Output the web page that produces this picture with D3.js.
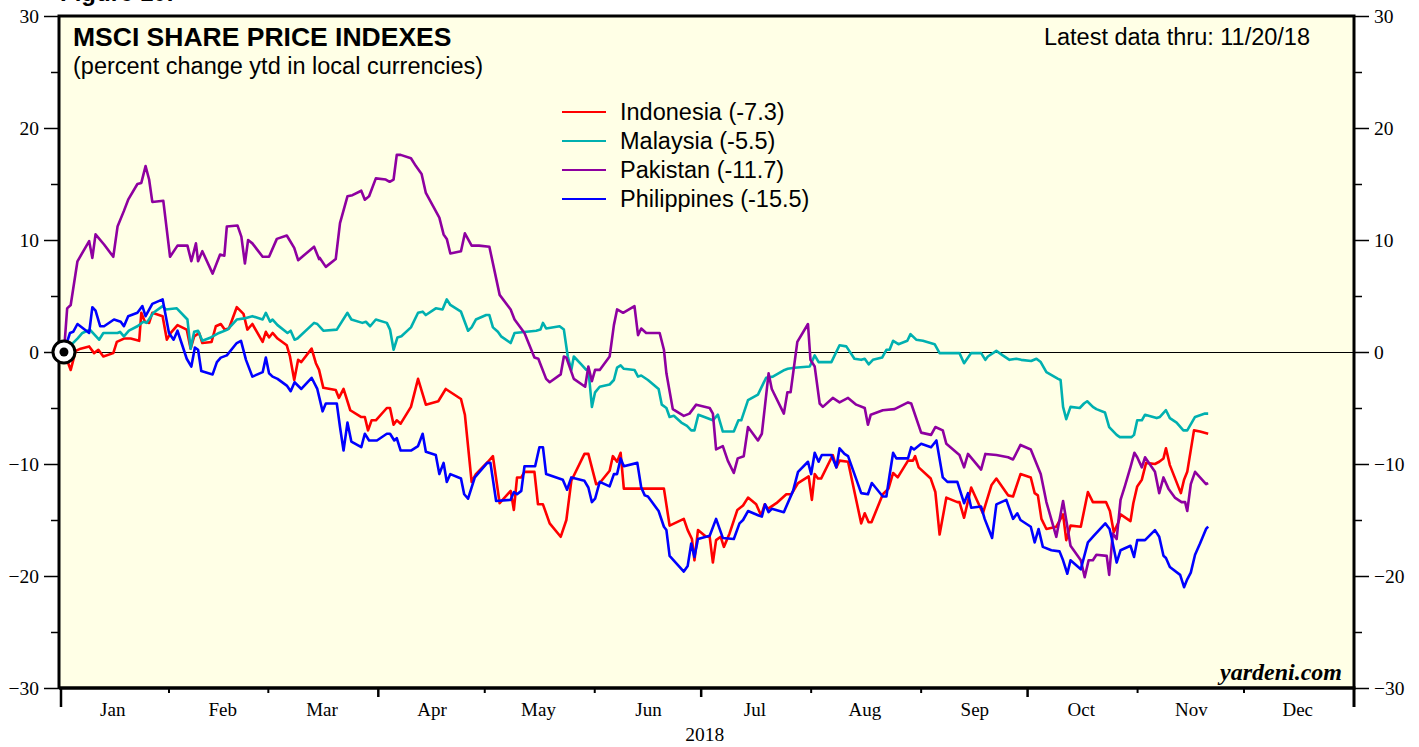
<!DOCTYPE html>
<html>
<head>
<meta charset="utf-8">
<script src="https://cdn.jsdelivr.net/npm/d3@7"></script>
<style>
  body { margin: 0; background: #fff; }
  svg { display: block; }
</style>
</head>
<body>
<svg id="chart" width="1419" height="747"></svg>
<script>
// [day of 2018 (0 = Jan 1), percent change ytd]
const indonesia = [[1.4,0],[3.3,-1.6],[4.7,0.1],[6.1,0.3],[8.5,0.5],[9.9,-0.1],[11.1,0.2],[12.5,-0.4],[15.3,-0.1],[16.3,0.9],[18.3,1.2],[20.2,1.2],[22.6,1.0],[23.2,3.5],[24.2,2.7],[25.4,2.6],[26.3,3.5],[29.2,3.2],[30.4,1.1],[31.5,1.7],[33.4,2.4],[36,2.0],[37.1,0.3],[38.1,1.4],[39.5,1.7],[40.4,0.8],[43,0.9],[44.2,2.3],[45.6,2.5],[46.7,2.0],[47.9,2.1],[50.1,4.0],[52,3.4],[53.1,2.0],[54.5,2.5],[57.4,0.9],[58.3,1.8],[59.2,1.3],[60.2,1.7],[61.6,1.2],[64.2,0.6],[65.1,-0.4],[66.3,-2.5],[67.4,-0.7],[68.3,-0.9],[71.2,0.3],[72.4,-1.0],[73.3,-1.6],[74.5,-3.2],[78,-3.4],[78.9,-4.1],[80.2,-3.3],[82.1,-5.2],[85.1,-5.8],[86.2,-5.8],[87.1,-7.0],[88.1,-6.1],[89.3,-6.1],[92.4,-5.0],[93.3,-5.0],[94.3,-6.5],[95.2,-6.1],[96.3,-6.4],[99.2,-4.9],[101.2,-2.4],[103.4,-4.7],[106.9,-4.4],[109,-3.3],[113.3,-4.2],[114.4,-5.6],[116.3,-11.6],[117.5,-10.9],[120.9,-9.8],[122.3,-9.3],[124.2,-13.5],[127.3,-12.4],[128.2,-14.1],[129.1,-11.2],[130.3,-11.2],[131.2,-10.7],[134,-10.7],[135,-13.6],[136.4,-13.6],[138.3,-15.3],[141.4,-16.5],[143,-15.0],[144.4,-11.5],[148.1,-9.1],[149.2,-9.1],[151.4,-11.8],[152.4,-11.7],[155.2,-10.6],[156.1,-9.3],[157.3,-9.8],[158.3,-9.0],[159.2,-12.2],[170.5,-12.2],[172.1,-15.5],[176.1,-14.9],[177.2,-15.9],[178.4,-16.7],[179.1,-18.6],[180.1,-15.9],[182.4,-16.5],[183.4,-16.5],[184.3,-18.8],[185.2,-16.8],[186.5,-16.5],[187.4,-17.4],[189,-16.2],[191.2,-14.1],[192.8,-13.7],[194.2,-13.0],[196.5,-13.6],[197.9,-14.6],[198.9,-13.6],[199.8,-14.0],[202.2,-13.5],[205,-12.7],[206.4,-12.7],[208.3,-11.7],[211.3,-11.1],[212.2,-13.2],[213,-10.9],[213.9,-11.3],[214.8,-11.3],[218.1,-9.2],[219.1,-10.3],[220,-9.7],[222.4,-9.8],[226.1,-15.3],[227.1,-14.4],[228.2,-15.2],[229,-15.2],[232.2,-12.7],[233.8,-12.2],[235.1,-10.8],[236.4,-11.2],[239.3,-9.7],[240.7,-9.7],[241.3,-9.3],[242.3,-10.3],[245.7,-11.3],[247,-12.5],[248.2,-16.3],[250.1,-13.0],[253.2,-13.4],[253.8,-13.4],[255.1,-14.8],[257.1,-12.1],[260.4,-14.4],[262.8,-11.9],[264.2,-11.3],[267.5,-12.8],[268.9,-12.9],[271,-10.9],[273.9,-11.2],[275,-12.6],[275.9,-12.8],[276.9,-14.9],[278.3,-15.8],[281.1,-15.6],[283,-14.5],[283.9,-16.8],[285.1,-15.5],[288,-15.6],[290,-12.5],[291.4,-13.4],[295.1,-13.4],[296.2,-14.2],[297.3,-16.1],[298.6,-15.2],[299.2,-14.5],[302,-15.1],[302.8,-13.5],[303.9,-12.0],[305.2,-11.4],[306.4,-9.9],[308.9,-10.0],[310.1,-9.8],[311.3,-9.5],[312,-8.6],[313.1,-10.1],[316.2,-12.6],[317.1,-11.4],[318,-10.7],[319.9,-7.0],[321.6,-7.1],[323.9,-7.3]];

const malaysia = [[1.4,0],[5.2,1.2],[6.6,1.7],[8.7,2.0],[11.3,1.1],[12.5,1.7],[16.5,1.7],[17.2,1.8],[18.3,1.4],[19.7,1.9],[22.1,2.3],[23.8,2.7],[24.7,2.6],[26.6,3.5],[29.2,4.1],[30.1,3.8],[33.2,3.9],[36.2,2.9],[37.1,0.3],[38.1,1.8],[39.2,1.9],[40.4,1.0],[42.8,1.3],[45.1,1.7],[47.5,2.0],[50.1,2.9],[52.2,3.0],[54.5,3.2],[57.4,2.9],[58.3,3.5],[59.5,2.7],[60.2,2.9],[61.6,2.4],[64.4,1.7],[65.3,1.9],[66.4,1.1],[67.2,1.2],[71.9,2.6],[72.8,2.5],[74.5,1.9],[78.3,2.0],[81.3,3.5],[82.4,2.9],[85.5,2.6],[86.5,2.7],[87.7,2.3],[89.3,2.9],[92.4,2.6],[93.3,2.0],[94.3,0.2],[95.4,1.3],[96.5,1.4],[99.2,2.2],[101.2,3.5],[102.5,3.6],[103.4,3.3],[106.2,3.9],[108.1,3.8],[109.3,4.7],[110.3,4.2],[113.3,3.6],[115.3,1.9],[116.3,2.2],[117.5,2.9],[120.4,3.3],[121.3,3.3],[122.3,2.2],[123.7,1.8],[124.6,1.4],[127.3,0.8],[128.4,1.7],[134.5,1.9],[135.7,2.0],[136.4,2.6],[137.3,2.1],[141.1,2.3],[142.3,2.0],[143.4,-0.4],[144.4,-1.6],[145.1,-0.4],[147.2,-1.1],[148.6,-1.6],[149.2,-1.5],[150.2,-4.9],[151.1,-3.6],[152.4,-3.1],[155.2,-2.9],[156.4,-2.5],[157.3,-1.4],[158.3,-1.2],[159.2,-1.5],[162.2,-1.6],[163.2,-2.2],[164.1,-2.1],[166,-2.5],[169,-3.3],[169.9,-4.7],[171.2,-5.0],[172.1,-5.8],[173.3,-5.7],[175.4,-6.3],[177,-6.6],[178.2,-7.0],[179.1,-7.0],[180.2,-5.6],[181.9,-5.8],[184.3,-6.1],[185.7,-5.6],[187.1,-7.1],[190.2,-7.1],[191.5,-6.1],[192.3,-6.1],[194.2,-4.3],[197,-3.8],[199.3,-2.3],[201.2,-2.2],[204.5,-1.6],[205.4,-1.5],[207.3,-1.4],[211.6,-1.3],[213,-0.3],[214.1,-0.9],[217.7,-0.9],[220,0.6],[221.9,0.5],[224.2,-0.6],[226.1,-0.7],[227.1,-0.6],[228.2,-1.1],[229.4,-0.7],[232,-0.5],[233.2,0.2],[234.1,0.2],[235.1,1.0],[236.6,0.7],[239.1,1.0],[240,1.6],[241.6,1.1],[243.5,1.0],[246.8,0.7],[248.2,-0.1],[249.6,-0.1],[253.8,-0.1],[255.1,-1.0],[257.1,-0.1],[259.9,-0.1],[261.1,-0.7],[261.8,-0.4],[264.2,0.1],[266,-0.3],[267.9,-0.7],[269.8,-0.6],[271.2,-0.7],[274,-0.8],[275.5,-0.6],[276.7,-0.9],[278.3,-1.8],[281.6,-2.4],[282.3,-2.5],[283,-4.9],[283.9,-6.0],[285.1,-4.9],[287.7,-5.0],[288.9,-4.6],[289.8,-4.4],[291.4,-4.9],[292.4,-5.1],[294.8,-5.4],[296,-6.7],[298.1,-7.4],[299,-7.6],[302.3,-7.6],[303,-7.4],[303.9,-6.1],[305.2,-6.1],[306.1,-5.6],[309.4,-5.9],[310.3,-5.8],[312,-5.2],[313.1,-5.9],[315,-6.3],[316.9,-7.0],[318,-7.0],[320.2,-5.8],[323,-5.5],[323.9,-5.5]];

const pakistan = [[1.4,0],[2.3,3.9],[3.3,4.2],[5.2,8.1],[8.5,9.9],[9.4,8.4],[10.3,10.5],[12.7,9.6],[15.3,8.5],[16.5,11.2],[18.3,12.6],[19.5,13.6],[22.1,15.0],[23.2,15.1],[24.4,16.6],[25.4,15.4],[26.3,13.4],[29.4,13.5],[31.3,8.5],[33.4,9.5],[36.2,9.5],[37.3,8.1],[38.6,9.7],[39.2,8.1],[40.4,9.0],[43.3,7.0],[45.4,8.7],[46.6,8.6],[47.3,11.2],[50.3,11.3],[51.4,10.3],[52.4,7.9],[53.3,10.0],[54.5,9.7],[57.4,8.5],[59.2,8.5],[61.4,10.1],[64.2,10.4],[66.3,9.3],[67.4,8.2],[71.9,9.4],[73.3,8.3],[73.5,8.4],[75.2,7.6],[78,8.3],[79.2,11.5],[81.3,13.9],[82.7,14.0],[85.2,14.4],[86.2,13.6],[87.4,13.9],[89.3,15.5],[92.1,15.4],[93.2,15.2],[94.3,15.4],[95.2,17.6],[96.3,17.6],[99.2,17.3],[100.6,16.6],[102.2,15.9],[103.4,14.2],[107.2,12.0],[108.4,10.5],[109.3,10.1],[110.3,8.8],[113.3,9.0],[114.4,10.6],[116.3,9.5],[118.4,9.5],[121.3,9.4],[124.2,5.1],[127.3,3.8],[128.4,2.9],[131.2,1.7],[134,-0.5],[135.1,-0.6],[137.3,-2.4],[138.3,-2.7],[141.4,-2.0],[142.3,-0.4],[143,-0.5],[145.1,-2.4],[148.3,-3.1],[149.2,-1.3],[150.2,-2.6],[151.1,-1.6],[152.4,-1.6],[155.2,-0.4],[156.4,2.4],[157.3,3.8],[159,3.5],[162.2,4.1],[163.2,1.5],[164.1,2.1],[165.5,1.7],[169.3,1.7],[170.5,0.2],[171.2,-1.9],[173,-5.1],[176.1,-5.7],[177.7,-5.5],[179.6,-4.7],[183.4,-5.0],[184.3,-5.5],[185.2,-8.7],[187.1,-8.4],[188.5,-9.7],[190.2,-10.8],[191.3,-9.5],[193,-9.3],[194.2,-6.7],[197,-7.9],[198.1,-7.3],[200,-1.9],[200.9,-3.3],[204.3,-5.5],[205.3,-3.6],[206.2,-3.6],[208.1,0.9],[211.1,2.5],[211.8,-0.7],[213,-1.3],[214.4,-4.6],[215.3,-4.9],[218.1,-4.1],[220,-4.5],[222.4,-4.1],[224.7,-4.7],[227.1,-5.0],[228,-6.5],[228.8,-5.6],[232.2,-5.2],[235.5,-5.1],[239.3,-4.5],[240.2,-4.6],[243,-7.2],[245.8,-7.4],[247,-6.7],[249.1,-7.0],[250.1,-8.2],[253.8,-9.2],[255.1,-10.3],[256.2,-9.1],[259.9,-10.5],[261.1,-9.1],[264.2,-9.2],[267.5,-9.4],[268.9,-9.6],[271,-8.3],[273.9,-8.7],[276.7,-10.9],[278.3,-13.4],[281.1,-16.5],[283,-13.3],[285.1,-17.3],[288,-18.6],[289.1,-20.1],[290.2,-18.6],[291.4,-18.6],[292.4,-18.1],[295.3,-18.2],[296,-19.9],[297,-16.2],[298.1,-16.7],[299.2,-13.2],[300.4,-12.0],[301.9,-10.4],[303.1,-9.0],[303.9,-9.4],[305.2,-10.3],[306.1,-9.4],[308.9,-10.7],[310.1,-12.6],[311.3,-11.2],[312.7,-12.2],[314.5,-13.0],[316.4,-13.4],[317.4,-13.4],[318,-14.2],[319,-11.8],[320.2,-10.7],[321.6,-11.2],[323.3,-11.8],[323.9,-11.7]];

const philippines = [[1.4,0],[3.1,1.7],[4.0,1.8],[5.2,2.5],[8.5,1.7],[9.4,4.0],[10.3,3.7],[11.6,2.3],[12.7,2.3],[15.5,2.9],[17.4,2.7],[18.3,2.3],[19.5,3.2],[22.1,3.5],[23.5,4.1],[24.4,3.2],[26.3,4.3],[29.2,4.7],[31,1.7],[32.3,1.1],[33.4,1.9],[36,-0.6],[37.3,-1.3],[38.3,0.4],[39.2,0.2],[40.1,-1.7],[43.3,-2.0],[44.5,-0.9],[45.6,-0.5],[47.3,-0.3],[50.1,0.8],[51.3,1.0],[52.7,-0.7],[54.5,-2.2],[57.4,-1.8],[58.3,-0.5],[59.2,-1.9],[60.2,-2.2],[61.6,-2.4],[64.2,-3.0],[65.3,-3.5],[66.4,-2.7],[68.3,-3.3],[71.2,-2.3],[72.8,-3.3],[74.3,-5.3],[75.2,-4.6],[78.3,-4.6],[79.2,-6.7],[80.2,-8.8],[81.3,-6.3],[82.4,-8.0],[85.2,-8.5],[86.2,-7.3],[87.4,-7.9],[89.6,-7.9],[92.4,-7.3],[93.3,-7.3],[94.5,-7.9],[95.2,-7.7],[96.3,-8.8],[99.2,-8.8],[101.2,-8.4],[102.5,-7.3],[103.4,-8.9],[106.2,-9.2],[107.2,-10.9],[108.4,-9.9],[109.3,-11.6],[110.3,-10.9],[113.3,-11.3],[114.2,-12.7],[115.3,-13.1],[117.2,-11.2],[120.7,-9.9],[121.6,-9.9],[123.2,-13.3],[127.3,-13.2],[128.2,-12.5],[129.1,-12.7],[130.3,-12.4],[131.2,-10.2],[134.2,-10.2],[135.4,-8.5],[136.4,-8.5],[137.3,-10.9],[142,-11.4],[143.2,-12.3],[144.4,-11.2],[148.1,-11.5],[149.2,-12.1],[150.2,-13.4],[151.1,-13.1],[152.4,-11.6],[155.2,-12.0],[156.4,-10.9],[157.3,-10.9],[158.3,-9.5],[159.2,-10.2],[163,-9.9],[164.1,-12.1],[165.1,-12.8],[166,-12.9],[169,-14.2],[170.5,-15.6],[171.2,-15.9],[172.1,-18.2],[176.1,-19.6],[177.2,-19.1],[178.2,-17.1],[179.1,-18.3],[180.1,-16.7],[183.4,-16.4],[185.2,-14.9],[187.1,-16.6],[190.2,-16.7],[191.8,-15.3],[192.8,-15.0],[194.2,-14.2],[197.2,-14.6],[198.1,-14.7],[199,-13.6],[200,-14.3],[200.9,-14.0],[204.3,-14.3],[206.9,-12.4],[208.3,-10.7],[211.1,-9.8],[212,-10.9],[213,-9.0],[214.1,-9.8],[215,-9.2],[217.7,-9.2],[219.1,-10.3],[220,-8.6],[221.4,-9.1],[222.4,-9.3],[226.1,-12.6],[228,-12.7],[229.1,-11.7],[232.2,-12.9],[233.2,-12.9],[234.1,-11.0],[235.1,-9.0],[236,-9.5],[239.3,-9.5],[240.2,-8.5],[241,-8.7],[243,-8.2],[245.8,-8.5],[247.3,-7.9],[249.1,-11.2],[250.4,-11.6],[253.2,-11.6],[255.1,-13.5],[256.2,-12.6],[257.1,-13.9],[259.9,-13.8],[260.9,-14.9],[263,-16.6],[264.2,-13.6],[267,-13.2],[268.9,-14.9],[270.1,-14.4],[271,-15.0],[273.9,-15.6],[275,-17.0],[276.1,-15.8],[277.3,-17.4],[279.7,-17.7],[282,-17.8],[283,-18.6],[284.2,-19.8],[285.1,-18.6],[288,-19.4],[290,-17.0],[291.7,-16.4],[294.9,-15.3],[296.1,-15.8],[296.7,-16.6],[298.1,-18.8],[299.2,-17.7],[302,-17.3],[303,-18.3],[303.9,-16.8],[306.1,-16.8],[308.9,-15.9],[310.1,-16.5],[311.3,-18.2],[312,-18.4],[313.1,-19.2],[316,-19.9],[317.1,-21.0],[318,-20.3],[319,-19.7],[320.2,-18.1],[321.6,-17.1],[323.3,-15.8],[323.9,-15.6]];

const seriesNames = ['Indonesia (-7.3)', 'Malaysia (-5.5)', 'Pakistan (-11.7)', 'Philippines (-15.5)'];
const seriesColors = ['#ff0000', '#00b0b0', '#8e00a0', '#0000ff'];
const yMajor = [-30, -20, -10, 0, 10, 20, 30];
const yMinor = [-25, -15, -5, 5, 15, 25];

const svg = d3.select('#chart');
const plotLeft = 59, plotRight = 1354, plotTop = 16, plotBottom = 688;
const yearStart = new Date(2018, 0, 1);
const toDate = d => new Date(yearStart.getTime() + d * 864e5);

const x = d3.scaleTime().domain([yearStart, new Date(2019, 0, 1)]).range([plotLeft, plotRight]);
const y = d3.scaleLinear().domain([-30, 30]).range([plotBottom, plotTop]);

const serif = 'Liberation Serif, Times New Roman, serif';
const sans = 'Liberation Sans, Arial, Helvetica, sans-serif';

// figure caption, cut off by the top edge as in the source
svg.append('text').attr('x', 60).attr('y', 1).attr('font-family', sans)
    .attr('font-weight', 'bold').attr('font-size', 24).text('Figure 10.');

// plot background
svg.append('rect').attr('x', plotLeft).attr('y', plotTop)
    .attr('width', plotRight - plotLeft).attr('height', plotBottom - plotTop)
    .attr('fill', '#ffffe6');

// zero line
svg.append('line').attr('x1', plotLeft).attr('x2', plotRight)
    .attr('y1', y(0) + 0.5).attr('y2', y(0) + 0.5)
    .attr('stroke', '#000').attr('stroke-width', 1);

// y axes, major and minor ticks
function yAxes(axisFn, xpos) {
    let major = svg.append('g').attr('transform', `translate(${xpos},0)`)
        .call(axisFn(y).tickValues(yMajor).tickSize(15).tickPadding(5).tickFormat(d3.format('d')));
    let minor = svg.append('g').attr('transform', `translate(${xpos},0)`)
        .call(axisFn(y).tickValues(yMinor).tickSize(8).tickFormat(''));
    [major, minor].forEach(g => {
        g.select('.domain').remove();
        g.selectAll('.tick line').attr('stroke', '#000').attr('stroke-width', 1.5);
    });
    major.selectAll('.tick text').attr('font-family', serif).attr('font-size', 19.5).attr('fill', '#000');
}
yAxes(d3.axisLeft, plotLeft);
yAxes(d3.axisRight, plotRight);

// x axis: month boundary ticks
const months = d3.timeMonth.range(yearStart, new Date(2019, 0, 1));
svg.append('g')
    .selectAll('line')
    .data(months)
    .enter()
    .append('line')
    .attr('x1', d => x(d) + (d.getMonth() === 0 ? 2 : 0))
    .attr('x2', d => x(d) + (d.getMonth() === 0 ? 2 : 0))
    .attr('y1', plotBottom)
    .attr('y2', d => d.getMonth() === 0 ? 707 : (d.getMonth() % 3 === 0 ? 697 : 693))
    .attr('stroke', '#000')
    .attr('stroke-width', d => d.getMonth() % 3 === 0 ? 2.5 : 2);

// month labels centred in each month
const mid = months.map(m => new Date(m.getFullYear(), m.getMonth(), 16));
let xLab = svg.append('g').attr('transform', `translate(0,${plotBottom})`)
    .call(d3.axisBottom(x).tickValues(mid).tickSize(0).tickPadding(15).tickFormat(d3.timeFormat('%b')));
xLab.select('.domain').remove();
xLab.selectAll('.tick text').attr('font-family', serif).attr('font-size', 19).attr('fill', '#000');

svg.append('text').attr('x', x(new Date(2018, 6, 2))).attr('y', 741)
    .attr('text-anchor', 'middle').attr('font-family', serif).attr('font-size', 19.5).text('2018');

// series
const line = d3.line().x(d => x(toDate(d[0]))).y(d => y(d[1]));
[indonesia, malaysia, pakistan, philippines].forEach((s, i) => {
    svg.append('path').datum(s)
        .attr('fill', 'none')
        .attr('stroke', seriesColors[i])
        .attr('stroke-width', 2.6)
        .attr('stroke-linejoin', 'round')
        .attr('d', line);
});

// plot frame
svg.append('path')
    .attr('d', `M${plotLeft},${plotBottom} V${plotTop} H${plotRight} V707`)
    .attr('fill', 'none').attr('stroke', '#000').attr('stroke-width', 3);
svg.append('line').attr('x1', plotLeft).attr('x2', plotRight + 1.5)
    .attr('y1', plotBottom).attr('y2', plotBottom)
    .attr('stroke', '#000').attr('stroke-width', 3.5);

// start marker
svg.append('circle').attr('cx', x(toDate(1.4))).attr('cy', y(0)).attr('r', 11)
    .attr('fill', '#fff').attr('stroke', '#000').attr('stroke-width', 3);
svg.append('circle').attr('cx', x(toDate(1.4))).attr('cy', y(0)).attr('r', 4.5).attr('fill', '#000');

// titles
svg.append('text').attr('x', 73).attr('y', 46).attr('font-family', sans)
    .attr('font-weight', 'bold').attr('font-size', 26.5).text('MSCI SHARE PRICE INDEXES');
svg.append('text').attr('x', 73).attr('y', 74).attr('font-family', sans)
    .attr('font-size', 23.5).text('(percent change ytd in local currencies)');
svg.append('text').attr('x', 1310).attr('y', 45).attr('text-anchor', 'end').attr('font-family', sans)
    .attr('font-size', 23.5).text('Latest data thru: 11/20/18');

// legend
const legend = svg.append('g');
seriesNames.forEach((name, i) => {
    let ly = 112 + i * 29;
    legend.append('line').attr('x1', 562).attr('x2', 606).attr('y1', ly).attr('y2', ly)
        .attr('stroke', seriesColors[i]).attr('stroke-width', 2);
    legend.append('text').attr('x', 620).attr('y', ly + 8).attr('font-family', sans)
        .attr('font-size', 23.5).text(name);
});

svg.append('text').attr('x', 1342).attr('y', 680).attr('text-anchor', 'end')
    .attr('font-family', serif).attr('font-weight', 'bold').attr('font-style', 'italic')
    .attr('font-size', 24).text('yardeni.com');
</script>
</body>
</html>
